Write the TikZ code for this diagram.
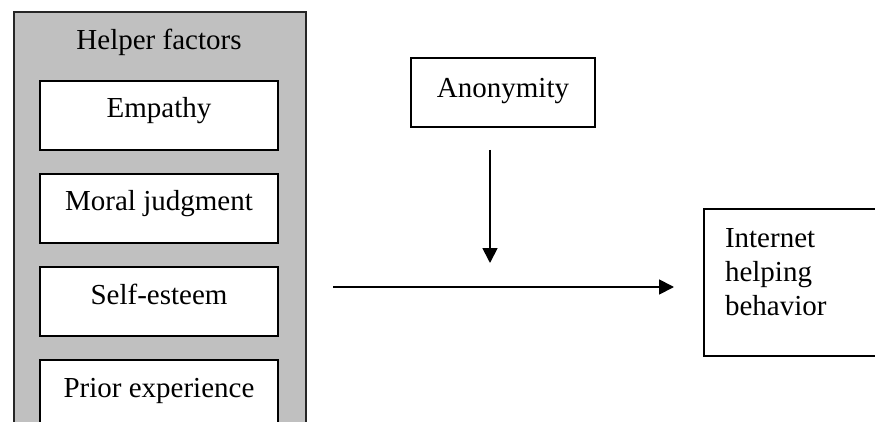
\documentclass[tikz,border=0pt]{standalone}
\usepackage{fontspec}
\setmainfont{Liberation Serif}
\usetikzlibrary{positioning,arrows.meta}
\definecolor{ink}  {HTML}{000000}
\definecolor{panel}{HTML}{C0C0C0}
\tikzset{
  >={Triangle[length=15pt,width=15pt]},
  every node/.style={font=\fontsize{29}{34}\selectfont},
  % --- nodes
  group/.style  = {draw=ink!85, fill=panel, line width=2pt, anchor=north west,
                   minimum width=292pt, minimum height=440pt, inner sep=0pt},
  factor/.style = {draw=ink, fill=white, line width=2pt, anchor=north,
                   minimum width=238pt, inner sep=0pt, text height=37pt, text depth=32pt},
  mod/.style    = {factor, anchor=north west, minimum width=184pt,
                   text height=40pt, text depth=29pt},
  outcome/.style= {draw=ink, fill=white, line width=2pt, anchor=north west,
                   text width=190pt, align=left, inner xsep=21pt, inner ysep=0pt,
                   text height=38pt, text depth=109pt},
  % --- edges
  link/.style   = {->, line width=1.8pt, draw=ink},
}
\begin{document}
\begin{tikzpicture}[x=1pt,y=-1pt]
  \useasboundingbox (0,0) rectangle (875,422);
  \clip (0,0) rectangle (875,422);

  % helper factors panel
  \node[group] (helper) at (13,11) {};
  \node[anchor=base] (title) at (159,50) {Helper factors};
  \node[factor] (empathy) at (159,80) {Empathy};
  \node[factor, below=22pt of empathy] (moral) {Moral judgment};
  \node[factor, below=22pt of moral] (esteem) {Self-esteem};
  \node[factor, below=22pt of esteem] (prior) {Prior experience};

  \node[mod] (anon) at (410,57) {Anonymity};
  \node[outcome] (inet) at (703,208) {Internet\\helping\\behavior};

  \coordinate (cue)  at (490,263);
  \coordinate (flow) at (490,287);
  \draw[link, shorten <=22pt] (anon.south -| cue) -- (cue);
  \draw[link, shorten <=26pt, shorten >=29pt] (helper.east |- flow) -- (inet.west |- flow);
\end{tikzpicture}
\end{document}
